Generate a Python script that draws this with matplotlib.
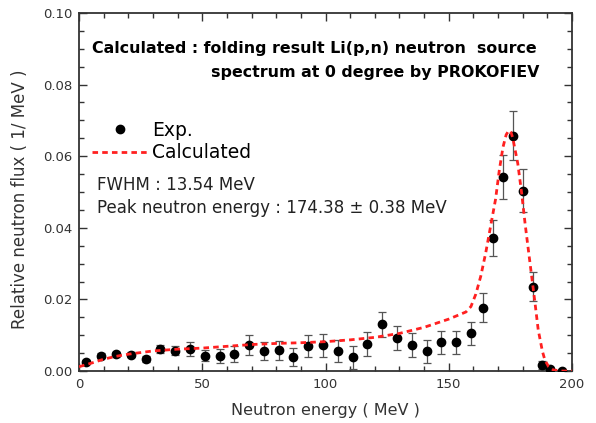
import numpy as np
import matplotlib
matplotlib.use("Agg")
import matplotlib.pyplot as plt
from matplotlib.ticker import MultipleLocator

# measured points (Exp.)
exp_energy = [3, 9, 15, 21, 27, 33, 39, 45, 51, 57, 63, 69, 75, 81, 87, 93, 99, 105, 111,
              117, 123, 129, 135, 141, 147, 153, 159, 164, 168, 172, 176, 180, 184, 188, 191, 196]
exp_flux = [0.0026, 0.0043, 0.0047, 0.0046, 0.0034, 0.0062, 0.0057, 0.0061, 0.0043, 0.0042,
            0.0047, 0.0073, 0.0056, 0.0058, 0.0039, 0.0070, 0.0072, 0.0056, 0.0038,
            0.0076, 0.0130, 0.0092, 0.0073, 0.0055, 0.0080, 0.0080, 0.0105, 0.0177,
            0.0372, 0.0541, 0.0657, 0.0504, 0.0236, 0.0017, 0.0005, 0.0001]
exp_err = [0.0004, 0.0007, 0.0007, 0.0007, 0.0008, 0.0012, 0.0012, 0.0019, 0.0016, 0.0020,
           0.0023, 0.0027, 0.0024, 0.0027, 0.0026, 0.0031, 0.0032, 0.0030, 0.0033,
           0.0034, 0.0034, 0.0034, 0.0034, 0.0032, 0.0033, 0.0033, 0.0033, 0.0041,
           0.0051, 0.0061, 0.0068, 0.0061, 0.0041, 0.0010, 0.0004, 0.0002]

# folding result (Calculated)
calc_energy = [0, 5, 10, 15, 20, 30, 40, 50, 60, 70, 80, 90, 100, 110, 120, 130, 140, 150,
               157, 159, 161, 163, 165, 167, 169, 170.5, 172, 173.3, 174.4, 175.3, 176,
               178, 179.6, 181, 183, 185, 186.3, 188, 189, 190.5, 192.4, 196, 200]
calc_flux = [0.0012, 0.0022, 0.0033, 0.0041, 0.0047, 0.0056, 0.0061, 0.0064, 0.0069, 0.0074,
             0.0077, 0.0079, 0.0082, 0.0087, 0.0094, 0.0105, 0.0122, 0.0145,
             0.0165, 0.0180, 0.0215, 0.0265, 0.0330, 0.0405, 0.0480, 0.0560, 0.0625, 0.0660,
             0.0672, 0.0666, 0.0650, 0.0580, 0.0496, 0.0410, 0.0300, 0.0190, 0.0115, 0.0055,
             0.0031, 0.0012, 0.0003, 0.0, 0.0]

plt.rcParams['font.family'] = ['DejaVu Sans']


# pixel coords -> figure coords
def fxy(x, y):
    return x / 596.0, 1 - y / 423.0


fig = plt.figure(figsize=(5.96, 4.23), dpi=100)
ax = fig.add_axes([0.1326, 0.1229, 0.8271, 0.8464])

ax.errorbar(exp_energy, exp_flux, yerr=exp_err, fmt='none', ecolor='#555555',
            elinewidth=0.9, capsize=3, capthick=0.9, zorder=2)
ax.plot(exp_energy, exp_flux, 'o', color='black', markersize=6, label='Exp.', zorder=3)
ax.plot(calc_energy, calc_flux, color='#ff2020', linestyle=(0, (2, 1.5)), linewidth=2,
        label='Calculated', zorder=4)

ax.set_xlim(0, 200)
ax.set_ylim(0, 0.10)
ax.xaxis.set_major_locator(MultipleLocator(50))
ax.xaxis.set_minor_locator(MultipleLocator(10))
ax.yaxis.set_major_locator(MultipleLocator(0.02))
ax.yaxis.set_minor_locator(MultipleLocator(0.005))
ax.yaxis.set_major_formatter(lambda v, p: "%.2f" % v)
ax.tick_params(which='both', direction='in', top=True, right=True, labelsize=9.5,
               colors='#333333', labelcolor='#333333', pad=5)
ax.tick_params(which='major', length=6, width=1)
ax.tick_params(which='minor', length=3.5, width=1)
for s in ax.spines.values():
    s.set_linewidth(1.3)
    s.set_color('#333333')

ax.set_xlabel('Neutron energy ( MeV )', fontsize=11.5, color='#333333')
ax.xaxis.set_label_coords(0.5, -32 / 358.0)
ax.set_ylabel('Relative neutron flux ( 1/ MeV )', fontsize=12, color='#333333')
ax.yaxis.set_label_coords(-50 / 493.0, 0.48)

fig.text(*fxy(92, 48), 'Calculated : folding result Li(p,n) neutron  source',
         fontsize=11.4, fontweight='bold', va='center')
fig.text(*fxy(211, 72), 'spectrum at 0 degree by PROKOFIEV',
         fontsize=11.4, fontweight='bold', va='center')
fig.text(*fxy(97, 185), 'FWHM : 13.54 MeV', fontsize=12, va='center', color='#222222')
fig.text(*fxy(97, 208), 'Peak neutron energy : 174.38 ± 0.38 MeV', fontsize=12,
         va='center', color='#222222')

ax.legend(loc='upper left', bbox_to_anchor=fxy(84, 113), bbox_transform=fig.transFigure,
          frameon=False, fontsize=13.5, handlelength=3.0, handletextpad=0.25,
          labelspacing=0.2, borderaxespad=0)

fig.savefig('out.png', dpi=100)
